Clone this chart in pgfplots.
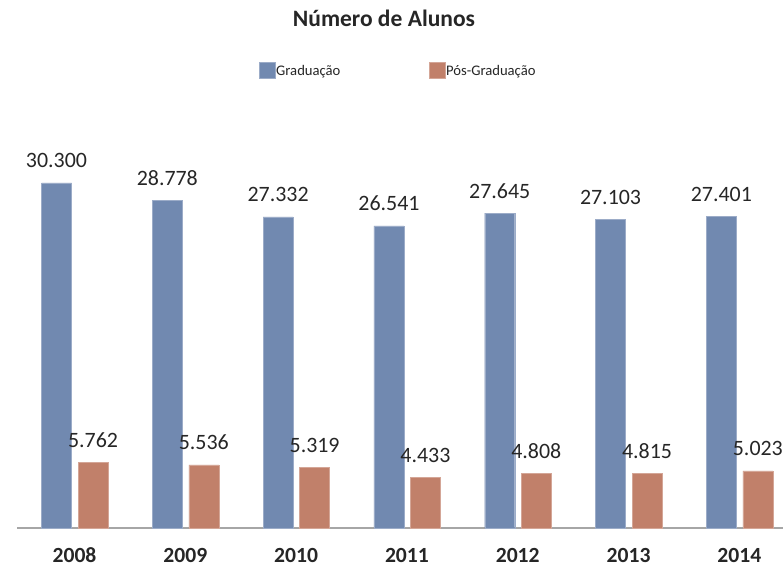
\documentclass[border=0pt]{standalone}
\usepackage{pgfplots}
\pgfplotsset{compat=1.18}
\usepackage{fontspec}
\setmainfont{Carlito}
\definecolor{grad}{HTML}{7189B0}
\definecolor{pos}{HTML}{C1806A}
\definecolor{axgray}{HTML}{A6A6A6}
\definecolor{txt}{HTML}{262626}
\begin{document}
\begin{tikzpicture}
\begin{axis}[
  scale only axis,
  width=766bp, height=345bp,
  xmin=-0.519, xmax=6.394,
  ymin=0, ymax=30300,
  ybar, bar width=30bp,
  axis y line=none,
  axis x line*=bottom,
  x axis line style={draw=axgray, line width=2.6bp, -},
  xtick={0,1,2,3,4,5,6},
  xticklabels={2008,2009,2010,2011,2012,2013,2014},
  major tick length=0pt,
  xtick style={draw=none},
  xticklabel style={font=\fontsize{21.7}{24}\selectfont\bfseries, text=txt, anchor=base, yshift=-34bp, inner sep=0pt},
  point meta=explicit symbolic,
  nodes near coords,
  nodes near coords style={font=\fontsize{22}{26}\selectfont, text=txt, anchor=base, yshift=15bp, inner sep=0pt},
  clip=false,
  title={Número de Alunos},
  title style={font=\fontsize{23.6}{28}\selectfont\bfseries, text=txt, at={(axis description cs:0.4791,1.4377)}, anchor=base, inner sep=0pt},
  legend columns=2,
  legend style={draw=none, fill=none, at={(axis description cs:0.3159,1.3275)}, anchor=west, inner sep=0pt,
    font=\fontsize{14.7}{17}\selectfont, text=txt,
    nodes={inner sep=0.6bp, anchor=base west},
    /tikz/every even column/.append style={column sep=88bp}},
  legend image code/.code={\fill[#1] (0bp,-3bp) rectangle (16bp,13bp);},
]
\addplot[fill=grad, draw=grad!70!white, line width=0.4bp, bar shift=-18bp] coordinates {
  (0,30300)[30.300] (1,28778)[28.778] (2,27332)[27.332] (3,26541)[26.541]
  (4,27645)[27.645] (5,27103)[27.103] (6,27401)[27.401]};
\addplot[fill=pos, draw=pos!70!white, line width=0.4bp, bar shift=18.5bp] coordinates {
  (0,5762)[5.762] (1,5536)[5.536] (2,5319)[5.319] (3,4433)[4.433]
  (4,4808)[4.808] (5,4815)[4.815] (6,5023)[5.023]};
\legend{Graduação,Pós-Graduação}
\end{axis}
\pgfresetboundingbox
\path[use as bounding box] (-17bp,-40bp) rectangle (766bp,528bp);
\end{tikzpicture}
\end{document}
